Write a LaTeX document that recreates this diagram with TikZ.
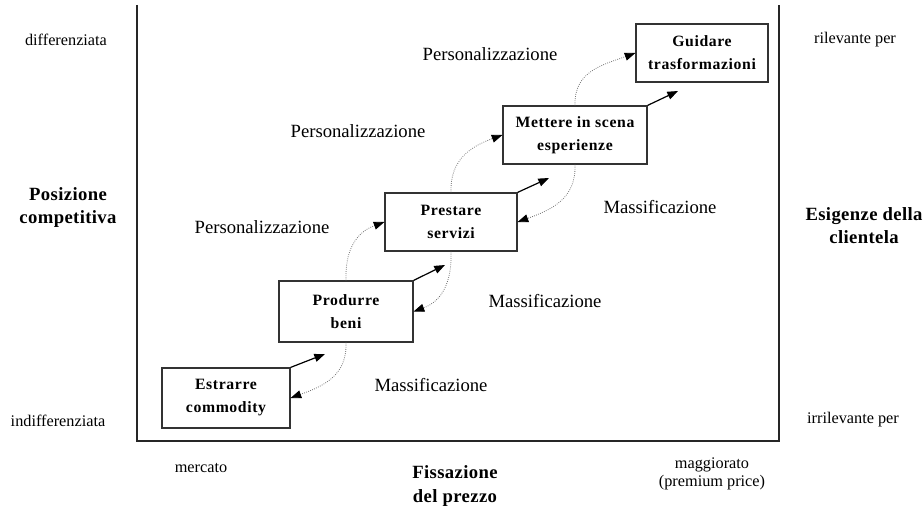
\documentclass[tikz,border=0pt]{standalone}
\usepackage{fontspec}
\setmainfont{Liberation Serif}
\usetikzlibrary{arrows.meta}
\begin{document}
\begin{tikzpicture}[x=0.75pt,y=-0.75pt,
  stage/.style={draw=black!80,line width=0.9pt,fill=white,inner sep=0pt,align=center,
    font=\fontsize{11.8}{17.25}\selectfont\bfseries\addfontfeatures{LetterSpace=4}},
  axislab/.style={align=center,font=\fontsize{14}{17.25}\selectfont\bfseries\addfontfeatures{LetterSpace=2}},
  small/.style={align=center,font=\fontsize{12.2}{13.5}\selectfont},
  trend/.style={align=center,font=\fontsize{14}{17}\selectfont},
  push/.style={line width=0.9pt,-{Triangle[length=8pt,width=6pt]}},
  drift/.style={draw=black!55,line width=0.6pt,densely dotted,-{Triangle[length=8pt,width=6pt,fill=black,color=black]}}]
\useasboundingbox (0,0) rectangle (924,510);
% frame
\coordinate (tl) at (137,5);
\coordinate (bl) at (137,441);
\coordinate (br) at (779,441);
\coordinate (tr) at (779,5);
\draw[line width=1pt,black!85] (tl) -- (bl) -- (br) -- (tr);
% stages
\node[stage,minimum width=128*0.75pt,minimum height=60*0.75pt] (estr) at (226,398) {Estrarre\\commodity};
\node[stage,minimum width=134*0.75pt,minimum height=61*0.75pt] (prod) at (346,311.5) {Produrre\\beni};
\node[stage,minimum width=132*0.75pt,minimum height=58*0.75pt] (pres) at (451,222) {Prestare\\servizi};
\node[stage,minimum width=144*0.75pt,minimum height=58*0.75pt] (mett) at (575,135) {Mettere in scena\\esperienze};
\node[stage,minimum width=132*0.75pt,minimum height=58*0.75pt] (guid) at (702,53) {Guidare\\trasformazioni};
% solid arrows
\coordinate (a1) at (325,354);
\coordinate (a2) at (445,265);
\coordinate (a3) at (549,178);
\coordinate (a4) at (678,91);
\draw[push] (estr.north east) -- (a1);
\draw[push] (prod.north east) -- (a2);
\draw[push] (pres.north east) -- (a3);
\draw[push] (mett.north east) -- (a4);
% dotted curves
\draw[drift] (prod.south) to[out=-88,in=20,looseness=1.1] (estr.east);
\draw[drift] (prod.north) to[out=92,in=200,looseness=1.1] (pres.west);
\draw[drift] (pres.south) to[out=-88,in=20,looseness=1.1] (prod.east);
\draw[drift] (pres.north) to[out=92,in=200,looseness=1.1] (mett.west);
\draw[drift] (mett.south) to[out=-88,in=20,looseness=1.1] (pres.east);
\draw[drift] (mett.north) to[out=92,in=200,looseness=1.1] (guid.west);
% trend labels
\node[trend] (p1) at (262,227) {Personalizzazione};
\node[trend] (p2) at (358,131) {Personalizzazione};
\node[trend] (p3) at (490,54) {Personalizzazione};
\node[trend] (m1) at (431,385) {Massificazione};
\node[trend] (m2) at (545,301) {Massificazione};
\node[trend] (m3) at (660,207) {Massificazione};
% axis labels
\node[small] (dif) at (66,40) {differenziata};
\node[small] (ind) at (58,421) {indifferenziata};
\node[axislab] (pos) at (68,208) {Posizione\\competitiva};
\node[small] (ril) at (855,40) {rilevante per};
\node[small] (irr) at (853,420) {irrilevante per};
\node[axislab] (esi) at (864,226) {Esigenze della\\clientela};
\node[small] (mer) at (201,468) {mercato};
\node[axislab,font=\fontsize{14}{18}\selectfont\bfseries\addfontfeatures{LetterSpace=2}] (fis) at (455,486) {Fissazione\\del prezzo};
\node[small] (mag) at (712,474) {maggiorato\\(premium price)};
\end{tikzpicture}
\end{document}
